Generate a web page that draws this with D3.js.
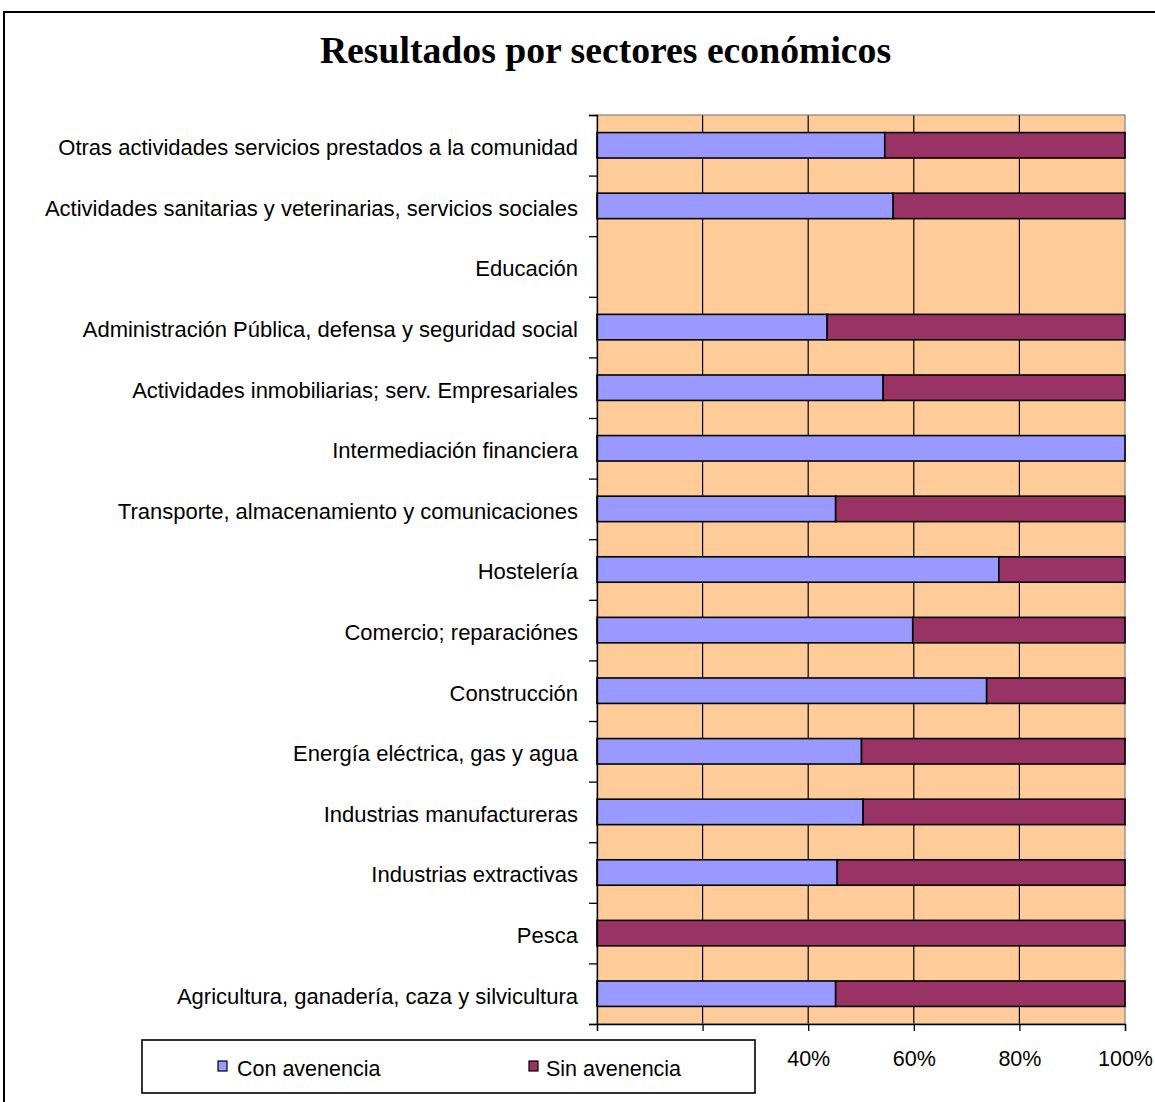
<!DOCTYPE html>
<html>
<head>
<meta charset="utf-8">
<script src="https://cdn.jsdelivr.net/npm/d3@7"></script>
<style>
  html, body { margin: 0; padding: 0; background: #fff; }
  svg { display: block; }
</style>
</head>
<body>
<svg id="chart" width="1155" height="1102"></svg>
<script>
// ---- data (bottom to top, as in the source chart) ----
const categories = [
  "Agricultura, ganadería, caza y silvicultura",
  "Pesca",
  "Industrias extractivas",
  "Industrias manufactureras",
  "Energía eléctrica, gas y agua",
  "Construcción",
  "Comercio; reparaciónes",
  "Hostelería",
  "Transporte, almacenamiento y comunicaciones",
  "Intermediación financiera ",
  "Actividades inmobiliarias; serv. Empresariales",
  "Administración Pública, defensa y seguridad social",
  "Educación",
  "Actividades sanitarias y veterinarias, servicios sociales",
  "Otras actividades servicios prestados a la comunidad"
];
const conAvenencia = [45.2, 0, 45.5, 50.4, 50.1, 73.8, 59.8, 76.1, 45.2, 100, 54.2, 43.6, 0, 56.1, 54.5];
const sinAvenencia = [54.8, 100, 54.5, 49.6, 49.9, 26.2, 40.2, 23.9, 54.8, 0, 45.8, 56.4, 0, 43.9, 45.5];
const xTickValues = [0, 20, 40, 60, 80, 100];
const xTickLabelsShown = [40, 60, 80, 100]; // 0% and 20% are covered by the legend box
const seriesNames = ["Con avenencia", "Sin avenencia"];
const titleText = "Resultados por sectores económicos";

// ---- layout ----
const svg = d3.select("#chart");
const plot = { left: 597, right: 1125, top: 115, bottom: 1024 };
const colors = { con: "#9999FF", sin: "#993366", bg: "#FFCC99" };
const sans = "'Liberation Sans', Arial, sans-serif";

// outer chart border
svg.append("rect")
  .attr("x", 4).attr("y", 12).attr("width", 1170).attr("height", 1120)
  .attr("fill", "#fff").attr("stroke", "#000").attr("stroke-width", 2);

// title
svg.append("text")
  .attr("x", 605.5).attr("y", 62.5)
  .attr("text-anchor", "middle")
  .attr("font-family", "'Liberation Serif', 'Times New Roman', serif")
  .attr("font-weight", "bold")
  .attr("font-size", 37.7)
  .attr("fill", "#000")
  .text(titleText);

// scales
const x = d3.scaleLinear().domain([0, 100]).range([plot.left, plot.right]);
const y = d3.scaleBand()
  .domain(categories.slice().reverse())
  .range([plot.top, plot.bottom])
  .paddingInner(0.58).paddingOuter(0.29);
const yEdge = d3.scaleLinear().domain([0, categories.length]).range([plot.bottom, plot.top]);

// plot background
svg.append("rect")
  .attr("x", plot.left).attr("y", plot.top)
  .attr("width", plot.right - plot.left).attr("height", plot.bottom - plot.top)
  .attr("fill", colors.bg);

// gridlines
svg.append("g").selectAll("line")
  .data(xTickValues.filter(v => v > 0 && v < 100))
  .join("line")
  .attr("x1", d => x(d)).attr("x2", d => x(d))
  .attr("y1", plot.top).attr("y2", plot.bottom)
  .attr("stroke", "#000").attr("stroke-width", 1.2);

// plot border (grey)
svg.append("rect")
  .attr("x", plot.left).attr("y", plot.top)
  .attr("width", plot.right - plot.left).attr("height", plot.bottom - plot.top)
  .attr("fill", "none").attr("stroke", "#808080").attr("stroke-width", 1.2);

// bars
const rows = categories.map((c, i) => ({ c, con: conAvenencia[i], sin: sinAvenencia[i] }));
const gBars = svg.append("g");
gBars.selectAll("rect.con")
  .data(rows.filter(d => d.con > 0))
  .join("rect").attr("class", "con")
  .attr("x", x(0)).attr("y", d => y(d.c))
  .attr("width", d => x(d.con) - x(0)).attr("height", y.bandwidth())
  .attr("fill", colors.con).attr("stroke", "#000").attr("stroke-width", 1.6);
gBars.selectAll("rect.sin")
  .data(rows.filter(d => d.sin > 0))
  .join("rect").attr("class", "sin")
  .attr("x", d => x(d.con)).attr("y", d => y(d.c))
  .attr("width", d => x(d.con + d.sin) - x(d.con)).attr("height", y.bandwidth())
  .attr("fill", colors.sin).attr("stroke", "#000").attr("stroke-width", 1.6);

// y axis: boundary ticks
const yAxisTicks = svg.append("g")
  .attr("transform", `translate(${plot.left},0)`)
  .call(d3.axisLeft(yEdge).tickValues(d3.range(0, categories.length + 1)).tickSize(8).tickFormat(""));
yAxisTicks.selectAll("path,line").attr("stroke", "#000").attr("stroke-width", 1.3);

// y axis: category labels
const yLabels = svg.append("g")
  .attr("transform", `translate(${plot.left},0)`)
  .call(d3.axisLeft(y).tickSize(0).tickPadding(19));
yLabels.select(".domain").remove();
yLabels.selectAll("text")
  .attr("font-family", sans).attr("font-size", 22).attr("fill", "#000")
  .attr("dy", "0.45em");

// x axis
const xAxis = svg.append("g")
  .attr("transform", `translate(0,${plot.bottom})`)
  .call(d3.axisBottom(x).tickValues(xTickValues).tickSize(7).tickPadding(20)
    .tickFormat(d => xTickLabelsShown.includes(d) ? d + "%" : ""));
xAxis.select(".domain").attr("stroke", "#000").attr("stroke-width", 1.3);
xAxis.selectAll(".tick line").attr("stroke", "#000").attr("stroke-width", 1.3);
xAxis.selectAll("text").attr("font-family", sans).attr("font-size", 21.5).attr("fill", "#000");

// legend
const legend = svg.append("g");
legend.append("rect")
  .attr("x", 142).attr("y", 1040).attr("width", 613).attr("height", 53)
  .attr("fill", "#fff").attr("stroke", "#000").attr("stroke-width", 1.6);
const legendItems = [
  { name: seriesNames[0], color: colors.con, sx: 218, tx: 237 },
  { name: seriesNames[1], color: colors.sin, sx: 529, tx: 546 }
];
const li = legend.selectAll("g.item").data(legendItems).join("g").attr("class", "item");
li.append("rect")
  .attr("x", d => d.sx).attr("y", 1061).attr("width", 9).attr("height", 10)
  .attr("fill", d => d.color).attr("stroke", "#000").attr("stroke-width", 1.2);
li.append("text")
  .attr("x", d => d.tx).attr("y", 1075.5)
  .attr("font-family", sans).attr("font-size", 21.5).attr("fill", "#000")
  .text(d => d.name);
</script>
</body>
</html>
